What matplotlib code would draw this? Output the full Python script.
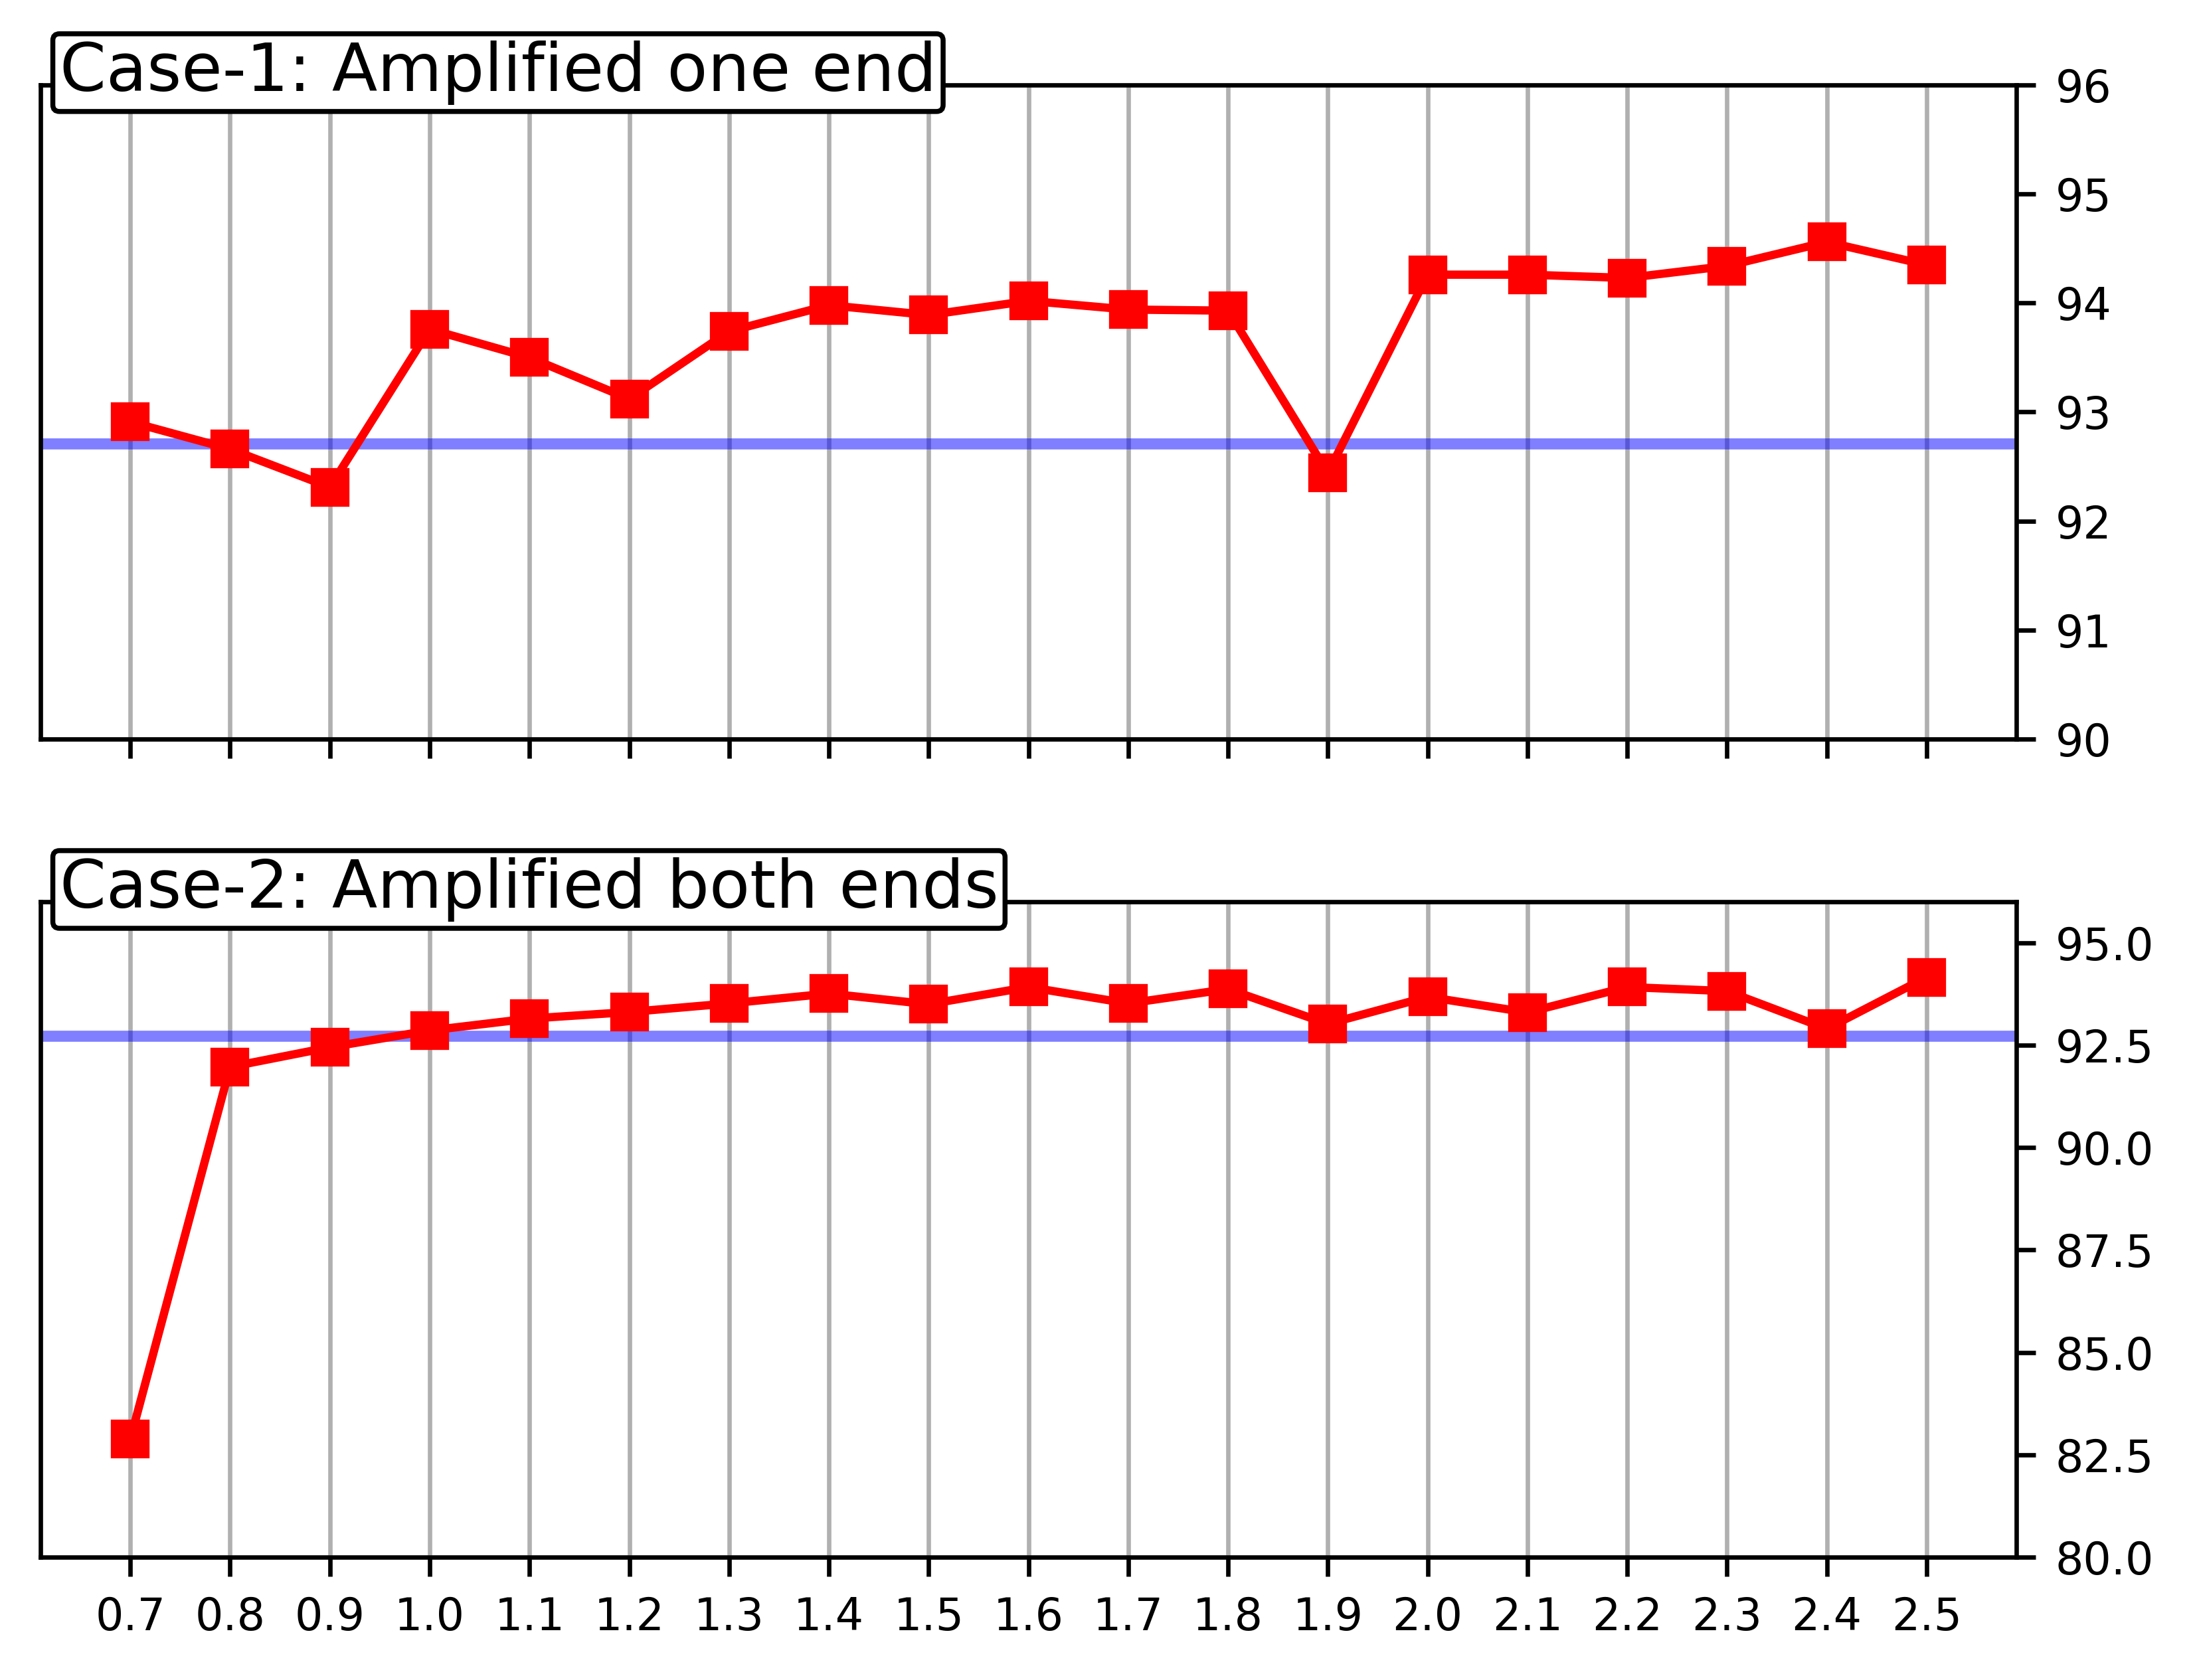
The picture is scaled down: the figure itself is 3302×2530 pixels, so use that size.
import matplotlib
matplotlib.use('Agg')
import matplotlib.pyplot as plt

x_vals = [0.7, 0.8, 0.9, 1.0, 1.1, 1.2, 1.3, 1.4, 1.5, 1.6, 1.7, 1.8, 1.9, 2.0, 2.1, 2.2, 2.3, 2.4, 2.5]
x_labels = ['0.7', '0.8', '0.9', '1.0', '1.1', '1.2', '1.3', '1.4', '1.5', '1.6',
            '1.7', '1.8', '1.9', '2.0', '2.1', '2.2', '2.3', '2.4', '2.5']
case1 = [92.91, 92.66, 92.31, 93.76, 93.50, 93.12, 93.74, 93.98, 93.89, 94.02,
         93.94, 93.93, 92.44, 94.26, 94.26, 94.23, 94.34, 94.56, 94.35]
case2 = [82.88, 91.97, 92.45, 92.86, 93.15, 93.31, 93.52, 93.76, 93.50, 93.92,
         93.52, 93.87, 93.02, 93.68, 93.30, 93.92, 93.82, 92.90, 94.16]
baseline1 = 92.71
baseline2 = 92.72
titles = ['Case-1: Amplified one end', 'Case-2: Amplified both ends']
ylims = [(90, 96), (80, 96)]

plt.rcParams['font.size'] = 8

fig = plt.figure(figsize=(3302 / 600, 2530 / 600), dpi=600)
ax1 = fig.add_axes([0.01847, 0.5601, 0.9010, 0.3893])
ax2 = fig.add_axes([0.01847, 0.0731, 0.9010, 0.3901], sharex=ax1)

for ax, vals, base, title, yl in zip([ax1, ax2], [case1, case2], [baseline1, baseline2], titles, ylims):
    ax.grid(axis='x', color='#b0b0b0', linewidth=0.8)
    ax.axhline(base, color='blue', alpha=0.5, linewidth=2)
    ax.plot(x_vals, vals, color='red', marker='s', linestyle='-', linewidth=1.5, markersize=6)
    ax.set_ylim(*yl)
    ax.yaxis.tick_right()
    ax.text(0.0096, 0.991, title, transform=ax.transAxes, ha='left', va='baseline',
            fontsize=12, bbox=dict(boxstyle='round,pad=0.1', fc='white', ec='black', lw=0.9))

ax2.set_xticks(x_vals)
ax2.set_xticklabels(x_labels)
ax1.tick_params(labelbottom=False)

fig.savefig('out.png', dpi=600)
